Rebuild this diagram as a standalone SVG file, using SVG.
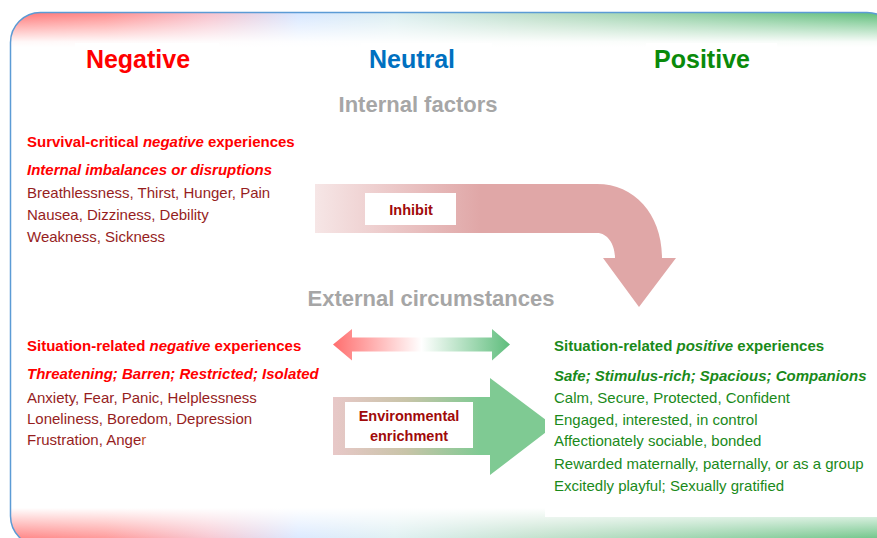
<svg xmlns="http://www.w3.org/2000/svg" width="877" height="538" viewBox="0 0 877 538">
<style>
.t{font-family:"Liberation Sans",Arial,sans-serif}
.h{font-weight:bold;font-size:25px;text-anchor:middle}
.sec{font-weight:bold;font-size:22px;fill:#a6a6a6;text-anchor:middle}
.b{font-size:15px}
.bb{font-size:15px;font-weight:bold}
.bi{font-size:15px;font-weight:bold;font-style:italic}
.neg{fill:#ff0000}
.negd{fill:#961e1e}
.pos{fill:#1a8a1a}
.lbl{font-size:14.5px;font-weight:bold;fill:#a00a0a;text-anchor:middle}
</style>
<defs>
<clipPath id="frame"><rect x="10.5" y="12.5" width="886.5" height="533.5" rx="30"/></clipPath>
<linearGradient id="hz" x1="0" y1="0" x2="877" y2="0" gradientUnits="userSpaceOnUse">
<stop offset="0" stop-color="#ff7070"/>
<stop offset="0.12" stop-color="#ff8a8a"/>
<stop offset="0.24" stop-color="#f6c0cc"/>
<stop offset="0.34" stop-color="#d6e6ff"/>
<stop offset="0.45" stop-color="#dbeef0"/>
<stop offset="0.62" stop-color="#b8dcc4"/>
<stop offset="1" stop-color="#5cbd78"/>
</linearGradient>
<linearGradient id="fadeTop" x1="0" y1="12" x2="0" y2="47" gradientUnits="userSpaceOnUse">
<stop offset="0" stop-color="#fff" stop-opacity="0"/>
<stop offset="0.4" stop-color="#fff" stop-opacity="0.45"/>
<stop offset="0.85" stop-color="#fff" stop-opacity="0.95"/>
<stop offset="1" stop-color="#fff" stop-opacity="1"/>
</linearGradient>
<linearGradient id="fadeBot" x1="0" y1="508" x2="0" y2="540" gradientUnits="userSpaceOnUse">
<stop offset="0" stop-color="#fff" stop-opacity="1"/>
<stop offset="0.5" stop-color="#fff" stop-opacity="0.55"/>
<stop offset="1" stop-color="#fff" stop-opacity="0.1"/>
</linearGradient>
<linearGradient id="inh" x1="315" y1="0" x2="480" y2="0" gradientUnits="userSpaceOnUse">
<stop offset="0" stop-color="#f6e6e6"/>
<stop offset="1" stop-color="#e0a7a7"/>
</linearGradient>
<linearGradient id="dbl" x1="333" y1="0" x2="510" y2="0" gradientUnits="userSpaceOnUse">
<stop offset="0" stop-color="#ff6e6e"/>
<stop offset="0.5" stop-color="#ffffff"/>
<stop offset="1" stop-color="#5ebd7c"/>
</linearGradient>
<linearGradient id="env" x1="333" y1="0" x2="480" y2="0" gradientUnits="userSpaceOnUse">
<stop offset="0" stop-color="#e8c8c8"/>
<stop offset="0.5" stop-color="#c8c4a8"/>
<stop offset="1" stop-color="#7fca93"/>
</linearGradient>
</defs>

<g id="background">
<g clip-path="url(#frame)">
<rect x="0" y="0" width="877" height="55" fill="url(#hz)"/>
<rect x="0" y="0" width="877" height="55" fill="url(#fadeTop)"/>
<rect x="0" y="505" width="877" height="40" fill="url(#hz)"/>
<rect x="0" y="505" width="877" height="40" fill="url(#fadeBot)"/>
</g>
<rect x="10.5" y="12.5" width="886.5" height="533.5" rx="30" fill="none" stroke="#5b9bd5" stroke-width="1.5"/>
<rect x="75" y="43" width="144" height="30" fill="#fff"/>
<rect x="361" y="43" width="131" height="30" fill="#fff"/>
<rect x="646" y="43" width="131" height="30" fill="#fff"/>
</g>

<g id="headers" class="t">
<text class="h neg" x="138" y="68">Negative</text>
<text class="h" x="412" y="68" fill="#0070c0">Neutral</text>
<text class="h" x="702" y="68" fill="#0a8a0a">Positive</text>
<text class="sec" x="418" y="112">Internal factors</text>
<text class="sec" x="431" y="306">External circumstances</text>
</g>

<g id="connectors">
<g id="inhibit-arrow">
<path d="M315,184 L597,184 C635,184 662,215 662,258 L676,258 L639,307 L603,258 L615,258 C615,245 608,233 597,233 L315,233 Z" fill="url(#inh)"/>
<rect x="365" y="193" width="91" height="32" fill="#fff"/>
<text class="t lbl" x="411" y="215">Inhibit</text>
</g>
<g id="double-arrow">
<path d="M333,344.5 L352,329 L352,337.5 L492,337.5 L492,329 L510,344.5 L492,360.5 L492,351.5 L352,351.5 L352,360.5 Z" fill="url(#dbl)"/>
</g>
<g id="enrichment-arrow">
<path d="M333,397 L490,397 L490,378 L554,426 L490,475 L490,455 L333,455 Z" fill="url(#env)"/>
<rect x="345" y="402" width="128" height="46" fill="#fff"/>
<text class="t lbl" x="409" y="421">Environmental</text>
<text class="t lbl" x="409" y="441">enrichment</text>
</g>
</g>

<g id="internal-negative" class="t">
<text class="bb neg" x="27" y="147">Survival-critical <tspan font-style="italic">negative</tspan> experiences</text>
<text class="bi neg" x="27" y="175">Internal imbalances or disruptions</text>
<text class="b negd" x="27" y="198">Breathlessness, Thirst, Hunger, Pain</text>
<text class="b negd" x="27" y="220">Nausea, Dizziness, Debility</text>
<text class="b negd" x="27" y="242">Weakness, Sickness</text>
</g>

<g id="situation-negative" class="t">
<text class="bb neg" x="27" y="351">Situation-related <tspan font-style="italic">negative</tspan> experiences</text>
<text class="bi neg" x="27" y="379">Threatening; Barren; Restricted; Isolated</text>
<text class="b negd" x="27" y="403">Anxiety, Fear, Panic, Helplessness</text>
<text class="b negd" x="27" y="424">Loneliness, Boredom, Depression</text>
<text class="b negd" x="27" y="445">Frustration, Ange<tspan fill="#c0502a">r</tspan></text>
</g>

<g id="situation-positive" class="t">
<rect x="545" y="330" width="333" height="187" fill="#fff"/>
<text class="bb pos" x="554" y="351">Situation-related <tspan font-style="italic">positive</tspan> experiences</text>
<text class="bi pos" x="554" y="381">Safe; Stimulus-rich; Spacious; Companions</text>
<text class="b pos" x="554" y="403">Calm, Secure, Protected, Confident</text>
<text class="b pos" x="554" y="425">Engaged, interested, in control</text>
<text class="b pos" x="554" y="446">Affectionately sociable, bonded</text>
<text class="b pos" x="554" y="469">Rewarded maternally, paternally, or as a group</text>
<text class="b pos" x="554" y="491">Excitedly playful; Sexually gratified</text>
</g>
</svg>
